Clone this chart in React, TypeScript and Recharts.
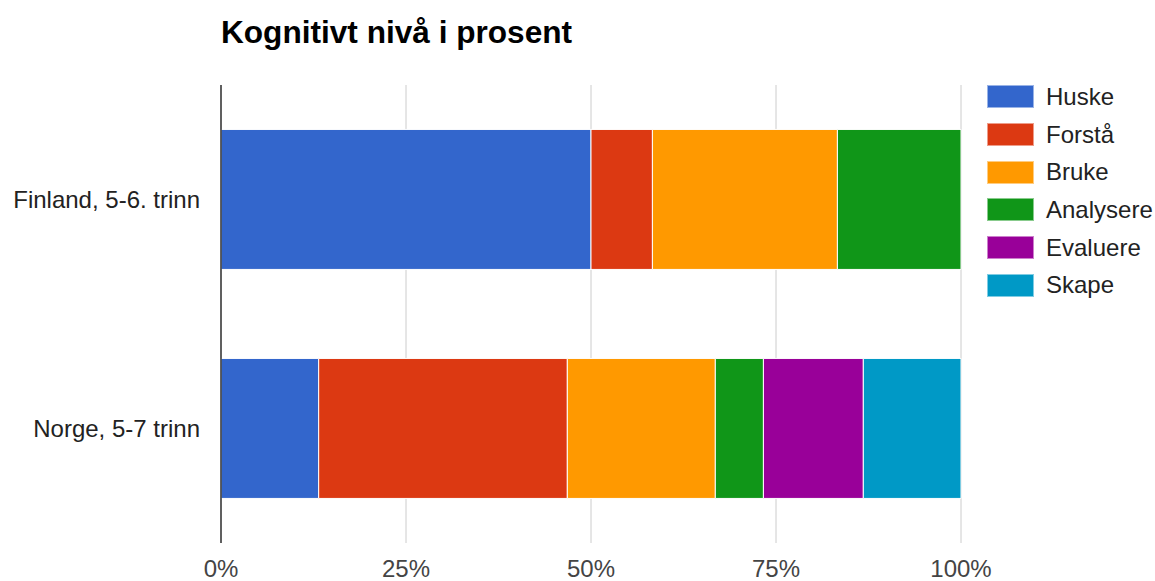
import React from "react";
import {
  BarChart,
  Bar,
  XAxis,
  YAxis,
  CartesianGrid,
  Legend,
} from "recharts";

const categories = ["Finland, 5-6. trinn", "Norge, 5-7 trinn"];

const levels = ["Huske", "Forstå", "Bruke", "Analysere", "Evaluere", "Skape"];

// share of tasks per cognitive level (percent)
const huske = [50.0, 13.2];
const forsta = [8.3, 33.6];
const bruke = [25.0, 20.0];
const analysere = [16.7, 6.5];
const evaluere = [0, 13.5];
const skape = [0, 13.2];

const xTicks = [0, 25, 50, 75, 100];

const COLORS = ["#3366cc", "#dc3912", "#ff9900", "#109618", "#990099", "#0099c6"];

const series = [huske, forsta, bruke, analysere, evaluere, skape];

const data = categories.map((name, i) => {
  const row: Record<string, string | number> = { name };
  levels.forEach((lvl, j) => {
    row[lvl] = series[j][i];
  });
  return row;
});

const FONT = "'Liberation Sans', Arial, sans-serif";

function LegendList() {
  return (
    <div style={{ fontFamily: FONT }}>
      {levels.map((lvl, i) => (
        <div
          key={lvl}
          style={{ display: "flex", alignItems: "center", height: 37.7 }}
        >
          <span
            style={{
              display: "inline-block",
              width: 47,
              height: 23,
              background: COLORS[i],
              border: "1px solid rgba(255,255,255,0.5)",
              boxSizing: "border-box",
            }}
          />
          <span style={{ marginLeft: 12, fontSize: 24, color: "#222" }}>
            {lvl}
          </span>
        </div>
      ))}
    </div>
  );
}

export default function App() {
  return (
    <div
      style={{
        position: "absolute",
        left: 0,
        top: 0,
        width: 1155,
        height: 581,
        background: "#fff",
      }}
    >
      <div
        style={{
          position: "absolute",
          left: 221,
          top: 17,
          fontFamily: FONT,
          fontWeight: 700,
          fontSize: 31.6,
          lineHeight: "31px",
          color: "#000",
          whiteSpace: "nowrap",
        }}
      >
        Kognitivt nivå i prosent
      </div>
      <BarChart
        width={1155}
        height={581}
        data={data}
        layout="vertical"
        margin={{ top: 85, right: 26, bottom: 0, left: 0 }}
        barCategoryGap="19.4%"
      >
        <CartesianGrid horizontal={false} stroke="#cccccc" />
        <XAxis
          type="number"
          domain={[0, 100]}
          ticks={xTicks}
          tickFormatter={(v) => `${v}%`}
          axisLine={false}
          tickLine={false}
          tickSize={0}
          tickMargin={17}
          height={38}
          tick={{ fontSize: 24, fill: "#444", fontFamily: FONT }}
          interval={0}
        />
        <YAxis
          type="category"
          dataKey="name"
          width={221}
          axisLine={{ stroke: "#333", strokeWidth: 1.5 }}
          tickLine={false}
          tickSize={0}
          tickMargin={21}
          tick={{ fontSize: 24, fill: "#222", fontFamily: FONT }}
        />
        <Legend
          layout="vertical"
          align="right"
          verticalAlign="top"
          content={() => <LegendList />}
          wrapperStyle={{ left: 987, top: 78, width: 168 }}
        />
        {levels.map((lvl, i) => (
          <Bar
            key={lvl}
            dataKey={lvl}
            stackId="a"
            fill={COLORS[i]}
            stroke="#fff"
            strokeWidth={1}
            isAnimationActive={false}
          />
        ))}
      </BarChart>
    </div>
  );
}
